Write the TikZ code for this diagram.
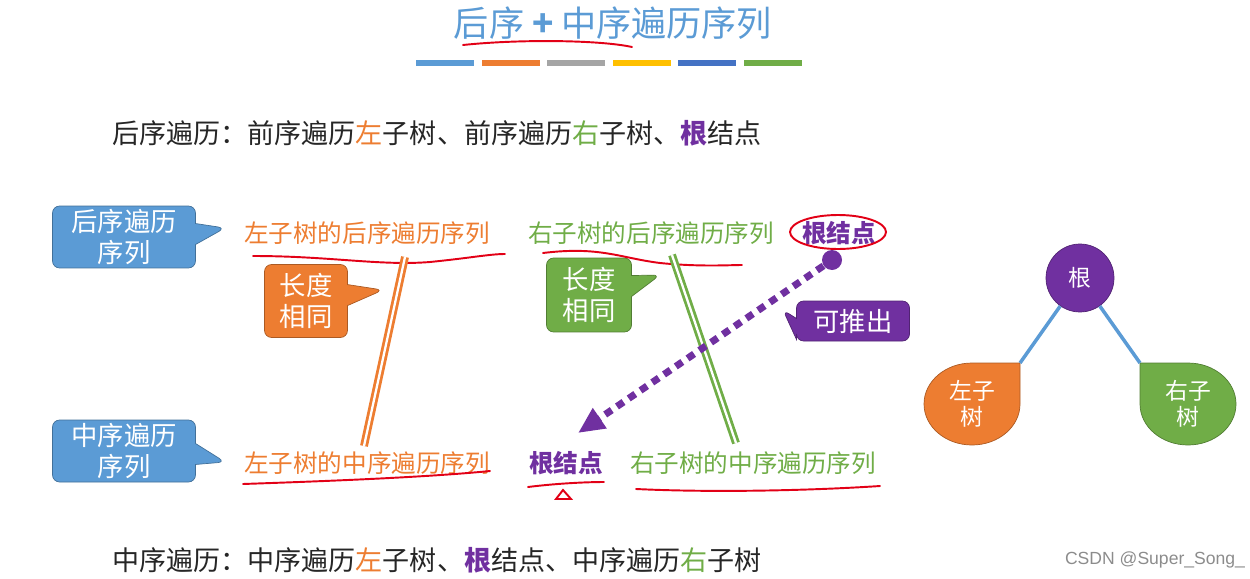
\documentclass[tikz,border=0pt]{standalone}
\usepackage{fontspec}
\setmainfont{Noto Sans CJK SC}
\newfontfamily\wmfont{Liberation Sans}
\usepackage{tikz}
\usetikzlibrary{shapes.callouts,arrows.meta,positioning}

\begin{document}
\begin{tikzpicture}[x=0.02cm, y=-0.02cm]

        \useasboundingbox (0,0) rectangle (1250,578);
        \definecolor{slideblue}{RGB}{91,155,213}
        \definecolor{slideorange}{RGB}{237,125,49}
        \definecolor{slidegray}{RGB}{165,165,165}
        \definecolor{slideyellow}{RGB}{255,192,0}
        \definecolor{slidedblue}{RGB}{68,114,196}
        \definecolor{slidegreen}{RGB}{112,173,71}
        \definecolor{rootpurple}{RGB}{112,48,160}
        \definecolor{penred}{RGB}{226,0,22}
        \tikzset{
            bubble/.style={rectangle callout, rounded corners=4pt, draw=#1!72!black, fill=#1, text=white, align=center, inner sep=1pt, callout pointer width=0.42cm, font=\fontsize{15}{17.5}\selectfont},
            seq/.style={inner sep=0pt, font=\fontsize{14}{16}\selectfont},
            sentence/.style={anchor=west, inner sep=0pt, text=black!85, font=\fontsize{15.4}{18}\selectfont},
            pen/.style={penred, line width=1.1pt, line cap=round},
            twin/.style={draw=#1, line width=1.6pt, double=white, double distance=1.3pt},
            leaf/.style={draw=#1!72!black, fill=#1},
            leaftext/.style={text=white, align=center, font=\fontsize{13}{15}\selectfont},
            branch/.style={slideblue, line width=2pt}
        }


        \node[text=slideblue, font=\fontsize{20}{24}\selectfont] (title) at (613,23) {后序 \textbf{+} 中序遍历序列};
        \draw[pen] (463,45) .. controls (520,39) and (600,40) .. (632,47);
        \foreach \c [count=\i from 0] in {slideblue,slideorange,slidegray,slideyellow,slidedblue,slidegreen}
            \fill[\c] (416+65.6*\i,60) rectangle ++(58,6);


        \node[sentence] (line_post) at (112,133) {后序遍历：前序遍历{\color{slideorange}左}子树、前序遍历{\color{slidegreen}右}子树、{\color{rootpurple}\bfseries 根}结点};
        \node[sentence] (line_in) at (112,560) {中序遍历：中序遍历{\color{slideorange}左}子树、{\color{rootpurple}\bfseries 根}结点、中序遍历{\color{slidegreen}右}子树};


        \coordinate (post_tip) at (225,228);
        \coordinate (in_tip) at (225,462);
        \coordinate (lenl_tip) at (383,290);
        \coordinate (lenr_tip) at (660,275);
        \coordinate (derive_tip) at (783,310);

        \node[bubble=slideblue, minimum width=2.86cm, minimum height=1.24cm, callout absolute pointer=(post_tip)] (post_lbl) at (124,237) {后序遍历\\序列};
        \node[bubble=slideblue, minimum width=2.86cm, minimum height=1.24cm, callout absolute pointer=(in_tip)] (in_lbl) at (124,451) {中序遍历\\序列};
        \node[bubble=slideorange, minimum width=1.66cm, minimum height=1.46cm, callout absolute pointer=(lenl_tip)] (len_l) at (306,301) {长度\\相同};
        \node[bubble=slidegreen, minimum width=1.7cm, minimum height=1.48cm, callout absolute pointer=(lenr_tip)] (len_r) at (589,295) {长度\\相同};
        \node[bubble=rootpurple, minimum width=2.26cm, minimum height=0.8cm, callout absolute pointer=(derive_tip)] (derive) at (853,321) {可推出};


        \node[seq, text=slideorange] (post_left) at (367,233) {左子树的后序遍历序列};
        \node[seq, text=slidegreen] (post_right) at (651,233) {右子树的后序遍历序列};
        \node[seq, text=rootpurple, font=\fontsize{14}{16}\selectfont\bfseries] (post_root) at (839,233) {根结点};

        \node[seq, text=slideorange] (in_left) at (367,463) {左子树的中序遍历序列};
        \node[seq, text=rootpurple, font=\fontsize{14}{16}\selectfont\bfseries] (in_root) at (566,463) {根结点};
        \node[seq, text=slidegreen] (in_right) at (753,463) {右子树的中序遍历序列};


        \draw[pen] (253,256) .. controls (330,256) and (380,266) .. (430,262) .. controls (470,258) and (490,254) .. (505,254);
        \draw[pen] (543,253) .. controls (600,246) and (620,258) .. (660,263) .. controls (700,267) and (730,265) .. (742,265);
        \draw[pen] (838,232) ellipse [x radius=48, y radius=17];
        \draw[pen] (243,484) .. controls (300,482) and (420,478) .. (490,471);
        \draw[pen] (528,487) .. controls (560,483) and (590,482) .. (604,482);
        \draw[pen] (556,499) -- (563,490) -- (571,499) -- cycle;
        \draw[pen] (636,489) .. controls (720,493) and (820,490) .. (880,486);


        \coordinate (lenl_top) at (405,257);
        \coordinate (lenl_bot) at (364,446);
        \coordinate (lenr_top) at (672,255);
        \coordinate (lenr_bot) at (736,443);
        \draw[twin=slideorange] (lenl_top) -- (lenl_bot);
        \draw[twin=slidegreen] (lenr_top) -- (lenr_bot);


        \node[circle, fill=rootpurple, minimum size=0.4cm, inner sep=0pt] (root_dot) at (832,260) {};
        \coordinate (root_slot) at (578,433);
        \draw[rootpurple, line width=4pt, dash pattern=on 4.5pt off 3.6pt, -{Triangle[length=15pt, width=13pt]}] (root_dot) -- (root_slot);


        \node[circle, draw=rootpurple!72!black, fill=rootpurple, minimum size=1.36cm, inner sep=0pt, text=white, font=\fontsize{13}{15}\selectfont] (tree_root) at (1080,278) {根};
        \coordinate (lcorner) at (1020,363);
        \coordinate (rcorner) at (1140,363);
        \draw[leaf=slideorange] (lcorner) -- (1020,404) arc[start angle=0, end angle=270, x radius=48, y radius=41] -- cycle;
        \draw[leaf=slidegreen] (rcorner) -- (1140,404) arc[start angle=180, end angle=-90, x radius=48, y radius=41] -- cycle;
        \node[leaftext] (tree_left) at (972,404) {左子\\树};
        \node[leaftext] (tree_right) at (1188,404) {右子\\树};
        \draw[branch] (tree_root) -- (lcorner);
        \draw[branch] (tree_root) -- (rcorner);


        \node[text=black!45, font=\wmfont\fontsize{10}{12}\selectfont] (watermark) at (1155,560) {CSDN @Super\_Song\_};

    \end{tikzpicture}
\end{document}
